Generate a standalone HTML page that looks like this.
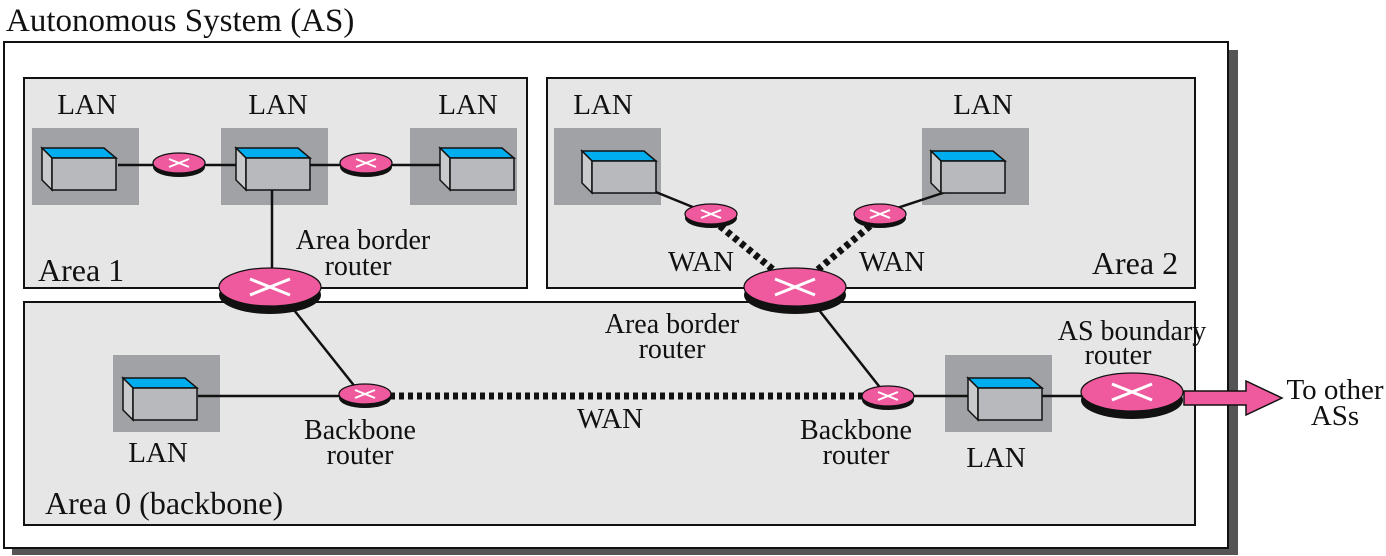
<!DOCTYPE html>
<html><head><style>
html,body{margin:0;padding:0;background:#fff;}
svg{display:block;}
text{font-family:"Liberation Serif",serif;fill:#111;}
</style></head><body>
<svg width="1386" height="556" viewBox="0 0 1386 556" xmlns="http://www.w3.org/2000/svg">
<defs>
<g id="dev">
  <polygon points="0,0 62,0 74,10 10,10" fill="#00aeef" stroke="#111" stroke-width="1.5"/>
  <polygon points="0,0 10,10 10,42 0,32" fill="#c9cacc" stroke="#111" stroke-width="1.5"/>
  <rect x="10" y="10" width="64" height="32" fill="#b8b9bc" stroke="#111" stroke-width="1.5"/>
</g>
<g id="sr">
  <ellipse cx="0" cy="4" rx="26" ry="10" fill="#111"/>
  <ellipse cx="0" cy="0" rx="26" ry="10" fill="#ef5a9f" stroke="#111" stroke-width="1.2"/>
  <path d="M-10,-4 L10,4 M-10,4 L10,-4" stroke="#fff" stroke-width="2"/>
</g>
<g id="br">
  <ellipse cx="0" cy="8" rx="51" ry="19" fill="#111"/>
  <ellipse cx="0" cy="0" rx="51" ry="19" fill="#ef5a9f" stroke="#111" stroke-width="1.2"/>
  <path d="M-20,-8 L20,8 M-20,8 L20,-8" stroke="#fff" stroke-width="3"/>
</g>
</defs>

<text x="6" y="31" font-size="33">Autonomous System (AS)</text>
<rect x="12" y="50" width="1226" height="505" fill="#555"/>
<rect x="4" y="42" width="1224" height="506" fill="#fff" stroke="#111" stroke-width="2"/>

<rect x="24" y="78" width="503" height="210" fill="#e6e6e6" stroke="#111" stroke-width="2"/>
<rect x="547" y="78" width="648" height="210" fill="#e6e6e6" stroke="#111" stroke-width="2"/>
<rect x="24" y="302" width="1171" height="223" fill="#e6e6e6" stroke="#111" stroke-width="2"/>

<!-- Area 1 -->
<rect x="32" y="128" width="107" height="77" fill="#a0a2a5"/>
<rect x="221" y="128" width="107" height="77" fill="#a0a2a5"/>
<rect x="410" y="128" width="107" height="77" fill="#a0a2a5"/>
<text x="87" y="114" font-size="29" text-anchor="middle">LAN</text>
<text x="278" y="114" font-size="29" text-anchor="middle">LAN</text>
<text x="468" y="114" font-size="29" text-anchor="middle">LAN</text>
<line x1="118" y1="165" x2="440" y2="165" stroke="#111" stroke-width="2.5"/>
<line x1="272" y1="180" x2="272" y2="285" stroke="#111" stroke-width="2.5"/>
<use href="#dev" x="42" y="148"/>
<use href="#dev" x="236" y="148"/>
<use href="#dev" x="440" y="148"/>
<use href="#sr" x="179" y="163"/>
<use href="#sr" x="366" y="163"/>
<text x="38" y="281" font-size="32">Area 1</text>
<text x="363" y="249" font-size="28" text-anchor="middle">Area border</text>
<text x="358" y="275" font-size="28" text-anchor="middle">router</text>

<!-- Area 2 -->
<rect x="554" y="128" width="107" height="77" fill="#a0a2a5"/>
<rect x="922" y="128" width="107" height="77" fill="#a0a2a5"/>
<text x="603" y="114" font-size="29" text-anchor="middle">LAN</text>
<text x="983" y="114" font-size="29" text-anchor="middle">LAN</text>
<line x1="636" y1="184" x2="705" y2="212" stroke="#111" stroke-width="2.5"/>
<line x1="970" y1="184" x2="885" y2="212" stroke="#111" stroke-width="2.5"/>
<line x1="720" y1="226" x2="776" y2="272" stroke="#111" stroke-width="7" stroke-dasharray="5,4"/>
<line x1="870" y1="226" x2="815" y2="272" stroke="#111" stroke-width="7" stroke-dasharray="5,4"/>
<use href="#dev" x="582" y="151"/>
<use href="#dev" x="931" y="151"/>
<use href="#sr" x="711" y="214"/>
<use href="#sr" x="880" y="214"/>
<text x="701" y="271" font-size="29" text-anchor="middle">WAN</text>
<text x="892" y="271" font-size="29" text-anchor="middle">WAN</text>
<text x="1135" y="274" font-size="32" text-anchor="middle">Area 2</text>

<!-- Area 0 -->
<rect x="113" y="355" width="107" height="77" fill="#a0a2a5"/>
<rect x="945" y="355" width="107" height="77" fill="#a0a2a5"/>
<line x1="198" y1="396" x2="350" y2="396" stroke="#111" stroke-width="2.5"/>
<line x1="290" y1="305" x2="356" y2="388" stroke="#111" stroke-width="2.5"/>
<line x1="815" y1="305" x2="882" y2="390" stroke="#111" stroke-width="2.5"/>
<line x1="390" y1="396" x2="882" y2="396" stroke="#111" stroke-width="7" stroke-dasharray="5,4"/>
<line x1="900" y1="396" x2="1090" y2="396" stroke="#111" stroke-width="2.5"/>
<use href="#dev" x="123" y="378"/>
<use href="#dev" x="968" y="378"/>
<use href="#sr" x="365" y="394"/>
<use href="#sr" x="888" y="396"/>
<text x="158" y="462" font-size="29" text-anchor="middle">LAN</text>
<text x="996" y="467" font-size="29" text-anchor="middle">LAN</text>
<text x="360" y="439" font-size="28" text-anchor="middle">Backbone</text>
<text x="360" y="464" font-size="28" text-anchor="middle">router</text>
<text x="856" y="439" font-size="28" text-anchor="middle">Backbone</text>
<text x="856" y="464" font-size="28" text-anchor="middle">router</text>
<text x="610" y="428" font-size="29" text-anchor="middle">WAN</text>
<text x="672" y="333" font-size="28" text-anchor="middle">Area border</text>
<text x="672" y="358" font-size="28" text-anchor="middle">router</text>
<text x="1132" y="340" font-size="28" text-anchor="middle">AS boundary</text>
<text x="1118" y="364" font-size="28" text-anchor="middle">router</text>
<text x="45" y="514" font-size="32">Area 0 (backbone)</text>

<polygon points="1184,391 1246,391 1246,381 1282,398 1246,415 1246,405 1184,405" fill="#ef5a9f" stroke="#111" stroke-width="1.5"/>
<use href="#br" x="1132" y="392"/>
<text x="1335" y="399" font-size="29" text-anchor="middle">To other</text>
<text x="1335" y="425" font-size="29" text-anchor="middle">ASs</text>

<use href="#br" x="270" y="287"/>
<use href="#br" x="795" y="287"/>
</svg>
</body></html>
